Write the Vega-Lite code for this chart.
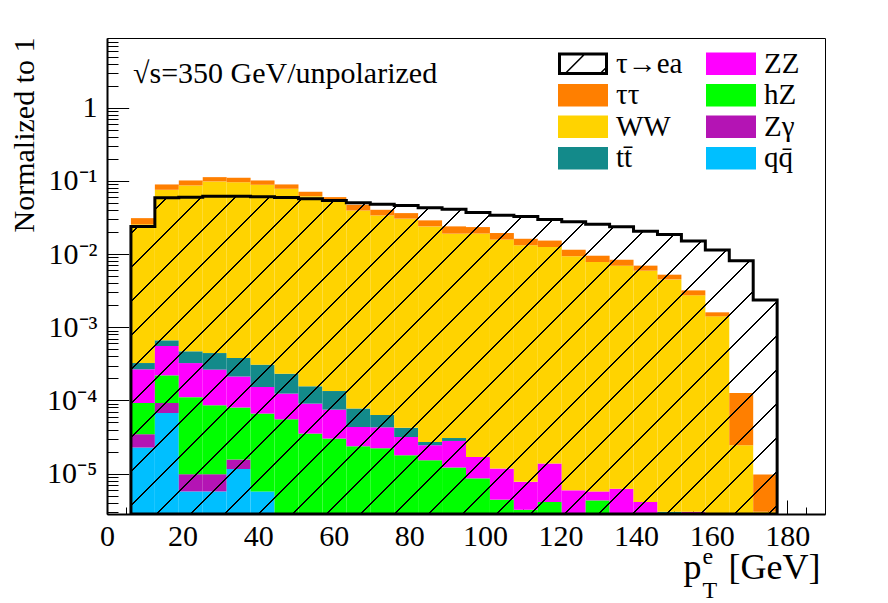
{
  "$schema": "https://vega.github.io/schema/vega-lite/v6.json",
  "description": "Normalized pT(e) distributions, tau->ea signal over stacked SM backgrounds, sqrt(s)=350 GeV unpolarized.",
  "width": 718,
  "height": 476,
  "autosize": {"type": "none"},
  "padding": {"left": 107, "top": 38, "right": 63, "bottom": 89},
  "background": "white",
  "config": {
    "view": {"stroke": "black", "strokeWidth": 1},
    "axis": {
      "labelFont": "Liberation Serif", "titleFont": "Liberation Serif",
      "labelColor": "black", "titleColor": "black", "tickColor": "black", "domainColor": "black",
      "grid": false, "titleFontWeight": "normal", "labelFlush": false, "labelOverlap": false, "zindex": 1
    }
  },
  "datasets": {
    "bkg": [
      {"lo": 6.333, "hi": 12.667, "p": "qq\u0304", "v": 2.27e-5},
      {"lo": 6.333, "hi": 12.667, "p": "Zγ", "v": 1.18e-5},
      {"lo": 6.333, "hi": 12.667, "p": "hZ", "v": 5.77e-5},
      {"lo": 6.333, "hi": 12.667, "p": "ZZ", "v": 1.74e-4},
      {"lo": 6.333, "hi": 12.667, "p": "tt\u0304", "v": 5.8e-5},
      {"lo": 6.333, "hi": 12.667, "p": "WW", "v": 0.0252},
      {"lo": 6.333, "hi": 12.667, "p": "ττ", "v": 0.0055},
      {"lo": 12.667, "hi": 19, "p": "qq\u0304", "v": 6.73e-5},
      {"lo": 12.667, "hi": 19, "p": "Zγ", "v": 2.48e-5},
      {"lo": 12.667, "hi": 19, "p": "hZ", "v": 1.28e-4},
      {"lo": 12.667, "hi": 19, "p": "ZZ", "v": 3.34e-4},
      {"lo": 12.667, "hi": 19, "p": "tt\u0304", "v": 1.08e-4},
      {"lo": 12.667, "hi": 19, "p": "WW", "v": 0.0751},
      {"lo": 12.667, "hi": 19, "p": "ττ", "v": 0.0138},
      {"lo": 19, "hi": 25.333, "p": "qq\u0304", "v": 5.7e-6},
      {"lo": 19, "hi": 25.333, "p": "Zγ", "v": 4.1e-6},
      {"lo": 19, "hi": 25.333, "p": "hZ", "v": 1.01e-4},
      {"lo": 19, "hi": 25.333, "p": "ZZ", "v": 2.13e-4},
      {"lo": 19, "hi": 25.333, "p": "tt\u0304", "v": 1.45e-4},
      {"lo": 19, "hi": 25.333, "p": "WW", "v": 0.0863},
      {"lo": 19, "hi": 25.333, "p": "ττ", "v": 0.0148},
      {"lo": 25.333, "hi": 31.667, "p": "qq\u0304", "v": 5.7e-6},
      {"lo": 25.333, "hi": 31.667, "p": "Zγ", "v": 4.1e-6},
      {"lo": 25.333, "hi": 31.667, "p": "hZ", "v": 7.6e-5},
      {"lo": 25.333, "hi": 31.667, "p": "ZZ", "v": 1.78e-4},
      {"lo": 25.333, "hi": 31.667, "p": "tt\u0304", "v": 1.8e-4},
      {"lo": 25.333, "hi": 31.667, "p": "WW", "v": 0.0981},
      {"lo": 25.333, "hi": 31.667, "p": "ττ", "v": 0.0142},
      {"lo": 31.667, "hi": 38, "p": "qq\u0304", "v": 1.15e-5},
      {"lo": 31.667, "hi": 38, "p": "Zγ", "v": 4.1e-6},
      {"lo": 31.667, "hi": 38, "p": "hZ", "v": 6.43e-5},
      {"lo": 31.667, "hi": 38, "p": "ZZ", "v": 1.33e-4},
      {"lo": 31.667, "hi": 38, "p": "tt\u0304", "v": 1.67e-4},
      {"lo": 31.667, "hi": 38, "p": "WW", "v": 0.096},
      {"lo": 31.667, "hi": 38, "p": "ττ", "v": 0.0142},
      {"lo": 38, "hi": 44.333, "p": "qq\u0304", "v": 5.7e-6},
      {"lo": 38, "hi": 44.333, "p": "hZ", "v": 6.04e-5},
      {"lo": 38, "hi": 44.333, "p": "ZZ", "v": 8.63e-5},
      {"lo": 38, "hi": 44.333, "p": "tt\u0304", "v": 1.56e-4},
      {"lo": 38, "hi": 44.333, "p": "WW", "v": 0.0884},
      {"lo": 38, "hi": 44.333, "p": "ττ", "v": 0.0129},
      {"lo": 44.333, "hi": 50.667, "p": "hZ", "v": 5.52e-5},
      {"lo": 44.333, "hi": 50.667, "p": "ZZ", "v": 6.87e-5},
      {"lo": 44.333, "hi": 50.667, "p": "tt\u0304", "v": 1.08e-4},
      {"lo": 44.333, "hi": 50.667, "p": "WW", "v": 0.078},
      {"lo": 44.333, "hi": 50.667, "p": "ττ", "v": 0.0114},
      {"lo": 50.667, "hi": 57, "p": "hZ", "v": 3.52e-5},
      {"lo": 50.667, "hi": 57, "p": "ZZ", "v": 5.52e-5},
      {"lo": 50.667, "hi": 57, "p": "tt\u0304", "v": 6.55e-5},
      {"lo": 50.667, "hi": 57, "p": "WW", "v": 0.0618},
      {"lo": 50.667, "hi": 57, "p": "ττ", "v": 0.0092},
      {"lo": 57, "hi": 63.333, "p": "hZ", "v": 3.01e-5},
      {"lo": 57, "hi": 63.333, "p": "ZZ", "v": 4.47e-5},
      {"lo": 57, "hi": 63.333, "p": "tt\u0304", "v": 5.95e-5},
      {"lo": 57, "hi": 63.333, "p": "WW", "v": 0.0541},
      {"lo": 57, "hi": 63.333, "p": "ττ", "v": 0.0059},
      {"lo": 63.333, "hi": 69.667, "p": "hZ", "v": 2.36e-5},
      {"lo": 63.333, "hi": 69.667, "p": "ZZ", "v": 1.97e-5},
      {"lo": 63.333, "hi": 69.667, "p": "tt\u0304", "v": 3.4e-5},
      {"lo": 63.333, "hi": 69.667, "p": "WW", "v": 0.0394},
      {"lo": 63.333, "hi": 69.667, "p": "ττ", "v": 0.0078},
      {"lo": 69.667, "hi": 76, "p": "hZ", "v": 2.22e-5},
      {"lo": 69.667, "hi": 76, "p": "ZZ", "v": 2.07e-5},
      {"lo": 69.667, "hi": 76, "p": "tt\u0304", "v": 2.03e-5},
      {"lo": 69.667, "hi": 76, "p": "WW", "v": 0.0337},
      {"lo": 69.667, "hi": 76, "p": "ττ", "v": 0.0066},
      {"lo": 76, "hi": 82.333, "p": "hZ", "v": 1.78e-5},
      {"lo": 76, "hi": 82.333, "p": "ZZ", "v": 1.38e-5},
      {"lo": 76, "hi": 82.333, "p": "tt\u0304", "v": 1.06e-5},
      {"lo": 76, "hi": 82.333, "p": "WW", "v": 0.0305},
      {"lo": 76, "hi": 82.333, "p": "ττ", "v": 0.0058},
      {"lo": 82.333, "hi": 88.667, "p": "hZ", "v": 1.52e-5},
      {"lo": 82.333, "hi": 88.667, "p": "ZZ", "v": 9.2e-6},
      {"lo": 82.333, "hi": 88.667, "p": "tt\u0304", "v": 2.6e-6},
      {"lo": 82.333, "hi": 88.667, "p": "WW", "v": 0.0239},
      {"lo": 82.333, "hi": 88.667, "p": "ττ", "v": 0.005},
      {"lo": 88.667, "hi": 95, "p": "hZ", "v": 1.21e-5},
      {"lo": 88.667, "hi": 95, "p": "ZZ", "v": 1.58e-5},
      {"lo": 88.667, "hi": 95, "p": "tt\u0304", "v": 2.7e-6},
      {"lo": 88.667, "hi": 95, "p": "WW", "v": 0.019},
      {"lo": 88.667, "hi": 95, "p": "ττ", "v": 0.0049},
      {"lo": 95, "hi": 101.333, "p": "hZ", "v": 8.6e-6},
      {"lo": 95, "hi": 101.333, "p": "ZZ", "v": 8.3e-6},
      {"lo": 95, "hi": 101.333, "p": "WW", "v": 0.0191},
      {"lo": 95, "hi": 101.333, "p": "ττ", "v": 0.0043},
      {"lo": 101.333, "hi": 107.667, "p": "hZ", "v": 4.4e-6},
      {"lo": 101.333, "hi": 107.667, "p": "ZZ", "v": 7.3e-6},
      {"lo": 101.333, "hi": 107.667, "p": "WW", "v": 0.0158},
      {"lo": 101.333, "hi": 107.667, "p": "ττ", "v": 0.0036},
      {"lo": 107.667, "hi": 114, "p": "hZ", "v": 3.2e-6},
      {"lo": 107.667, "hi": 114, "p": "ZZ", "v": 4.5e-6},
      {"lo": 107.667, "hi": 114, "p": "WW", "v": 0.0132},
      {"lo": 107.667, "hi": 114, "p": "ττ", "v": 0.003},
      {"lo": 114, "hi": 120.333, "p": "hZ", "v": 4.1e-6},
      {"lo": 114, "hi": 120.333, "p": "ZZ", "v": 9.6e-6},
      {"lo": 114, "hi": 120.333, "p": "WW", "v": 0.0125},
      {"lo": 114, "hi": 120.333, "p": "ττ", "v": 0.0028},
      {"lo": 120.333, "hi": 126.667, "p": "ZZ", "v": 5.9e-6},
      {"lo": 120.333, "hi": 126.667, "p": "WW", "v": 0.00935},
      {"lo": 120.333, "hi": 126.667, "p": "ττ", "v": 0.00212},
      {"lo": 126.667, "hi": 133, "p": "hZ", "v": 4.3e-6},
      {"lo": 126.667, "hi": 133, "p": "ZZ", "v": 1.4e-6},
      {"lo": 126.667, "hi": 133, "p": "WW", "v": 0.00779},
      {"lo": 126.667, "hi": 133, "p": "ττ", "v": 0.00171},
      {"lo": 133, "hi": 139.333, "p": "ZZ", "v": 6.2e-6},
      {"lo": 133, "hi": 139.333, "p": "WW", "v": 0.00694},
      {"lo": 133, "hi": 139.333, "p": "ττ", "v": 0.00143},
      {"lo": 139.333, "hi": 145.667, "p": "ZZ", "v": 4.1e-6},
      {"lo": 139.333, "hi": 145.667, "p": "WW", "v": 0.00593},
      {"lo": 139.333, "hi": 145.667, "p": "ττ", "v": 0.00102},
      {"lo": 145.667, "hi": 152, "p": "tt\u0304", "v": 3e-6},
      {"lo": 145.667, "hi": 152, "p": "WW", "v": 0.00451},
      {"lo": 145.667, "hi": 152, "p": "ττ", "v": 0.00072},
      {"lo": 152, "hi": 158.333, "p": "Zγ", "v": 3e-6},
      {"lo": 152, "hi": 158.333, "p": "WW", "v": 0.00273},
      {"lo": 152, "hi": 158.333, "p": "ττ", "v": 0.00046},
      {"lo": 158.333, "hi": 164.667, "p": "WW", "v": 0.00141},
      {"lo": 158.333, "hi": 164.667, "p": "ττ", "v": 0.00019},
      {"lo": 164.667, "hi": 171, "p": "WW", "v": 2.44e-5},
      {"lo": 164.667, "hi": 171, "p": "ττ", "v": 1.02e-4},
      {"lo": 171, "hi": 177.333, "p": "WW", "v": 3e-6},
      {"lo": 171, "hi": 177.333, "p": "ττ", "v": 6.7e-6}
    ],
    "sig": [
      {"x": 6.333, "v": 0.0239}, {"x": 12.667, "v": 0.059}, {"x": 19, "v": 0.0601},
      {"x": 25.333, "v": 0.062}, {"x": 31.667, "v": 0.062}, {"x": 38, "v": 0.0609},
      {"x": 44.333, "v": 0.0595}, {"x": 50.667, "v": 0.0571}, {"x": 57, "v": 0.0542},
      {"x": 63.333, "v": 0.0504}, {"x": 69.667, "v": 0.0482}, {"x": 76, "v": 0.0463},
      {"x": 82.333, "v": 0.0431}, {"x": 88.667, "v": 0.0412}, {"x": 95, "v": 0.0371},
      {"x": 101.333, "v": 0.0341}, {"x": 107.667, "v": 0.0327}, {"x": 114, "v": 0.0298},
      {"x": 120.333, "v": 0.0277}, {"x": 126.667, "v": 0.0255}, {"x": 133, "v": 0.0237},
      {"x": 139.333, "v": 0.0206}, {"x": 145.667, "v": 0.0186}, {"x": 152, "v": 0.0151},
      {"x": 158.333, "v": 0.0114}, {"x": 164.667, "v": 0.0081}, {"x": 171, "v": 0.00235},
      {"x": 177.333, "v": 0.00235}
    ]
  },
  "layer": [
    {
      "data": {"name": "bkg"},
      "transform": [{"stack": "v", "groupby": ["lo"], "as": ["v0", "v1"]}],
      "mark": {"type": "bar", "strokeWidth": 0},
      "encoding": {
        "x": {
          "field": "lo", "type": "quantitative",
          "scale": {"domain": [0, 190], "nice": false, "zero": false},
          "axis": {
            "orient": "bottom", "values": [0, 20, 40, 60, 80, 100, 120, 140, 160, 180],
            "tickSize": -14, "tickWidth": 1, "labelPadding": 21.6, "labelFontSize": 30,
            "domainWidth": 2,
            "title": "[GeV]", "titleFontSize": 36, "titleX": 713, "titleY": 64,
            "titleAlign": "right", "titleBaseline": "alphabetic", "titleAngle": 0
          }
        },
        "x2": {"field": "hi"},
        "y": {
          "field": "v1", "type": "quantitative",
          "scale": {"type": "log", "domain": [2.8e-6, 9], "nice": false, "clamp": true},
          "axis": {
            "orient": "left", "values": [1e-5, 1e-4, 1e-3, 1e-2, 1e-1, 1],
            "tickSize": -21.7, "tickWidth": 1, "labelPadding": 31.7, "labelFontSize": 30,
            "labelExpr": "datum.value > 0.5 ? '1' : '10' + ['', '⁻¹', '⁻²', '⁻³', '⁻⁴', '⁻⁵'][round(-log(datum.value) / LN10)]",
            "domainWidth": 2,
            "title": "Normalized to 1", "titleFontSize": 30, "titleX": -74, "titleY": -1,
            "titleAngle": -90, "titleAlign": "right", "titleBaseline": "alphabetic"
          }
        },
        "y2": {"field": "v0"},
        "color": {
          "field": "p", "type": "nominal",
          "scale": {
            "domain": ["τ→ea", "ττ", "WW", "tt\u0304", "ZZ", "hZ", "Zγ", "qq\u0304"],
            "range": ["#000000", "#ff7f00", "#ffd300", "#138a8a", "#ff00ff", "#00ff00", "#b414b4", "#00bfff"]
          },
          "legend": {
            "title": null, "orient": "none", "legendX": 451, "legendY": 10.2,
            "columns": 2, "columnPadding": 23, "rowPadding": 0.5, "padding": 0,
            "clipHeight": 31,
            "symbolType": "M-1,-0.45H1V0.45H-1Z", "symbolSize": 2500,
            "labelFont": "Liberation Serif", "labelFontSize": 29, "labelColor": "black",
            "labelOffset": 8, "labelLimit": 0,
            "encode": {
              "symbols": {
                "update": {
                  "shape": {"signal": "datum.value === 'τ→ea' ? 'M-1,-0.45H1V0.45H-1Z M-0.88,-0.33V0.33H0.88V-0.33Z M-0.692,0.33L-0.032,-0.33L0.053,-0.33L-0.607,0.33Z M0.708,0.33L0.88,0.158L0.88,0.243L0.793,0.33Z' : 'M-1,-0.45H1V0.45H-1Z'"},
                  "strokeWidth": {"value": 0}
                },
                "shape": {"value": {"signal": "datum.value === 'τ→ea' ? 'M-1,-0.45H1V0.45H-1Z M-0.88,-0.33V0.33H0.88V-0.33Z M-0.692,0.33L-0.032,-0.33L0.053,-0.33L-0.607,0.33Z M0.708,0.33L0.88,0.158L0.88,0.243L0.793,0.33Z' : 'M-1,-0.45H1V0.45H-1Z'"}},
                "strokeWidth": {"value": 0}
              }
            }
          }
        }
      }
    },
    {
      "data": {"name": "sig"},
      "mark": {
        "type": "area", "interpolate": "step-after", "clip": true,
        "stroke": "black", "strokeWidth": 3,
        "fill": {
          "gradient": "linear", "x1": 0, "y1": 0, "x2": 1.20124, "y2": 0.59089,
          "stops": [
            {"offset": 0, "color": "rgba(0,0,0,0)"},
            {"offset": 0.00296, "color": "rgba(0,0,0,0)"}, {"offset": 0.00296, "color": "#000"}, {"offset": 0.00451, "color": "#000"}, {"offset": 0.00451, "color": "rgba(0,0,0,0)"},
            {"offset": 0.03822, "color": "rgba(0,0,0,0)"}, {"offset": 0.03822, "color": "#000"}, {"offset": 0.03978, "color": "#000"}, {"offset": 0.03978, "color": "rgba(0,0,0,0)"},
            {"offset": 0.07349, "color": "rgba(0,0,0,0)"}, {"offset": 0.07349, "color": "#000"}, {"offset": 0.07505, "color": "#000"}, {"offset": 0.07505, "color": "rgba(0,0,0,0)"},
            {"offset": 0.10876, "color": "rgba(0,0,0,0)"}, {"offset": 0.10876, "color": "#000"}, {"offset": 0.11031, "color": "#000"}, {"offset": 0.11031, "color": "rgba(0,0,0,0)"},
            {"offset": 0.14402, "color": "rgba(0,0,0,0)"}, {"offset": 0.14402, "color": "#000"}, {"offset": 0.14558, "color": "#000"}, {"offset": 0.14558, "color": "rgba(0,0,0,0)"},
            {"offset": 0.17929, "color": "rgba(0,0,0,0)"}, {"offset": 0.17929, "color": "#000"}, {"offset": 0.18085, "color": "#000"}, {"offset": 0.18085, "color": "rgba(0,0,0,0)"},
            {"offset": 0.21456, "color": "rgba(0,0,0,0)"}, {"offset": 0.21456, "color": "#000"}, {"offset": 0.21611, "color": "#000"}, {"offset": 0.21611, "color": "rgba(0,0,0,0)"},
            {"offset": 0.24982, "color": "rgba(0,0,0,0)"}, {"offset": 0.24982, "color": "#000"}, {"offset": 0.25138, "color": "#000"}, {"offset": 0.25138, "color": "rgba(0,0,0,0)"},
            {"offset": 0.28509, "color": "rgba(0,0,0,0)"}, {"offset": 0.28509, "color": "#000"}, {"offset": 0.28664, "color": "#000"}, {"offset": 0.28664, "color": "rgba(0,0,0,0)"},
            {"offset": 0.32036, "color": "rgba(0,0,0,0)"}, {"offset": 0.32036, "color": "#000"}, {"offset": 0.32191, "color": "#000"}, {"offset": 0.32191, "color": "rgba(0,0,0,0)"},
            {"offset": 0.35562, "color": "rgba(0,0,0,0)"}, {"offset": 0.35562, "color": "#000"}, {"offset": 0.35718, "color": "#000"}, {"offset": 0.35718, "color": "rgba(0,0,0,0)"},
            {"offset": 0.39089, "color": "rgba(0,0,0,0)"}, {"offset": 0.39089, "color": "#000"}, {"offset": 0.39244, "color": "#000"}, {"offset": 0.39244, "color": "rgba(0,0,0,0)"},
            {"offset": 0.42616, "color": "rgba(0,0,0,0)"}, {"offset": 0.42616, "color": "#000"}, {"offset": 0.42771, "color": "#000"}, {"offset": 0.42771, "color": "rgba(0,0,0,0)"},
            {"offset": 0.46142, "color": "rgba(0,0,0,0)"}, {"offset": 0.46142, "color": "#000"}, {"offset": 0.46298, "color": "#000"}, {"offset": 0.46298, "color": "rgba(0,0,0,0)"},
            {"offset": 0.49669, "color": "rgba(0,0,0,0)"}, {"offset": 0.49669, "color": "#000"}, {"offset": 0.49824, "color": "#000"}, {"offset": 0.49824, "color": "rgba(0,0,0,0)"},
            {"offset": 0.53196, "color": "rgba(0,0,0,0)"}, {"offset": 0.53196, "color": "#000"}, {"offset": 0.53351, "color": "#000"}, {"offset": 0.53351, "color": "rgba(0,0,0,0)"},
            {"offset": 0.56722, "color": "rgba(0,0,0,0)"}, {"offset": 0.56722, "color": "#000"}, {"offset": 0.56878, "color": "#000"}, {"offset": 0.56878, "color": "rgba(0,0,0,0)"},
            {"offset": 0.60249, "color": "rgba(0,0,0,0)"}, {"offset": 0.60249, "color": "#000"}, {"offset": 0.60405, "color": "#000"}, {"offset": 0.60405, "color": "rgba(0,0,0,0)"},
            {"offset": 0.63776, "color": "rgba(0,0,0,0)"}, {"offset": 0.63776, "color": "#000"}, {"offset": 0.63931, "color": "#000"}, {"offset": 0.63931, "color": "rgba(0,0,0,0)"},
            {"offset": 0.67302, "color": "rgba(0,0,0,0)"}, {"offset": 0.67302, "color": "#000"}, {"offset": 0.67458, "color": "#000"}, {"offset": 0.67458, "color": "rgba(0,0,0,0)"},
            {"offset": 0.70829, "color": "rgba(0,0,0,0)"}, {"offset": 0.70829, "color": "#000"}, {"offset": 0.70984, "color": "#000"}, {"offset": 0.70984, "color": "rgba(0,0,0,0)"},
            {"offset": 0.74356, "color": "rgba(0,0,0,0)"}, {"offset": 0.74356, "color": "#000"}, {"offset": 0.74511, "color": "#000"}, {"offset": 0.74511, "color": "rgba(0,0,0,0)"},
            {"offset": 0.77882, "color": "rgba(0,0,0,0)"}, {"offset": 0.77882, "color": "#000"}, {"offset": 0.78038, "color": "#000"}, {"offset": 0.78038, "color": "rgba(0,0,0,0)"},
            {"offset": 0.81409, "color": "rgba(0,0,0,0)"}, {"offset": 0.81409, "color": "#000"}, {"offset": 0.81565, "color": "#000"}, {"offset": 0.81565, "color": "rgba(0,0,0,0)"},
            {"offset": 0.84936, "color": "rgba(0,0,0,0)"}, {"offset": 0.84936, "color": "#000"}, {"offset": 0.85091, "color": "#000"}, {"offset": 0.85091, "color": "rgba(0,0,0,0)"},
            {"offset": 0.88462, "color": "rgba(0,0,0,0)"}, {"offset": 0.88462, "color": "#000"}, {"offset": 0.88618, "color": "#000"}, {"offset": 0.88618, "color": "rgba(0,0,0,0)"},
            {"offset": 0.91989, "color": "rgba(0,0,0,0)"}, {"offset": 0.91989, "color": "#000"}, {"offset": 0.92144, "color": "#000"}, {"offset": 0.92144, "color": "rgba(0,0,0,0)"},
            {"offset": 0.95516, "color": "rgba(0,0,0,0)"}, {"offset": 0.95516, "color": "#000"}, {"offset": 0.95671, "color": "#000"}, {"offset": 0.95671, "color": "rgba(0,0,0,0)"},
            {"offset": 0.99042, "color": "rgba(0,0,0,0)"}, {"offset": 0.99042, "color": "#000"}, {"offset": 0.99198, "color": "#000"}, {"offset": 0.99198, "color": "rgba(0,0,0,0)"},
            {"offset": 1, "color": "rgba(0,0,0,0)"}
          ]
        }
      },
      "encoding": {
        "x": {
          "field": "x", "type": "quantitative",
          "scale": {"domain": [0, 190], "nice": false, "zero": false},
          "axis": {
            "orient": "bottom",
            "values": [5, 10, 15, 25, 30, 35, 45, 50, 55, 65, 70, 75, 85, 90, 95, 105, 110, 115, 125, 130, 135, 145, 150, 155, 165, 170, 175, 185],
            "tickSize": -7, "tickWidth": 1, "labels": false, "domain": false,
            "title": "p", "titleFontSize": 36, "titleX": 576, "titleY": 64,
            "titleAlign": "left", "titleBaseline": "alphabetic", "titleAngle": 0
          }
        },
        "y": {
          "field": "v", "type": "quantitative",
          "scale": {"type": "log", "domain": [2.8e-6, 9], "nice": false, "clamp": true},
          "axis": {
            "orient": "left",
            "values": [3e-6, 4e-6, 5e-6, 6e-6, 7e-6, 8e-6, 9e-6,
                       2e-5, 3e-5, 4e-5, 5e-5, 6e-5, 7e-5, 8e-5, 9e-5,
                       2e-4, 3e-4, 4e-4, 5e-4, 6e-4, 7e-4, 8e-4, 9e-4,
                       0.002, 0.003, 0.004, 0.005, 0.006, 0.007, 0.008, 0.009,
                       0.02, 0.03, 0.04, 0.05, 0.06, 0.07, 0.08, 0.09,
                       0.2, 0.3, 0.4, 0.5, 0.6, 0.7, 0.8, 0.9,
                       2, 3, 4, 5, 6, 7, 8],
            "tickSize": -11, "tickWidth": 1, "labels": false, "domain": false, "title": null
          }
        }
      }
    },
    {
      "data": {"values": [{}]},
      "mark": {"type": "text", "align": "left", "baseline": "alphabetic", "font": "Liberation Serif", "fontSize": 30, "color": "black"},
      "encoding": {
        "x": {
          "datum": 6.88, "type": "quantitative",
          "scale": {"domain": [0, 190], "nice": false, "zero": false},
          "axis": {
            "orient": "bottom", "ticks": false, "labels": false, "domain": false,
            "title": "e", "titleFontSize": 24, "titleX": 595, "titleY": 49,
            "titleAlign": "left", "titleBaseline": "alphabetic", "titleAngle": 0
          }
        },
        "y": {
          "datum": 2.18, "type": "quantitative",
          "scale": {"type": "log", "domain": [2.8e-6, 9], "nice": false, "clamp": true},
          "axis": {
            "orient": "left", "ticks": false, "labels": false, "domain": false,
            "title": "T", "titleFontSize": 24, "titleX": 595, "titleY": 559,
            "titleAlign": "left", "titleBaseline": "alphabetic", "titleAngle": 0
          }
        },
        "text": {"value": "√s=350 GeV/unpolarized"}
      }
    }
  ],
  "resolve": {"axis": {"x": "independent", "y": "independent"}}
}
